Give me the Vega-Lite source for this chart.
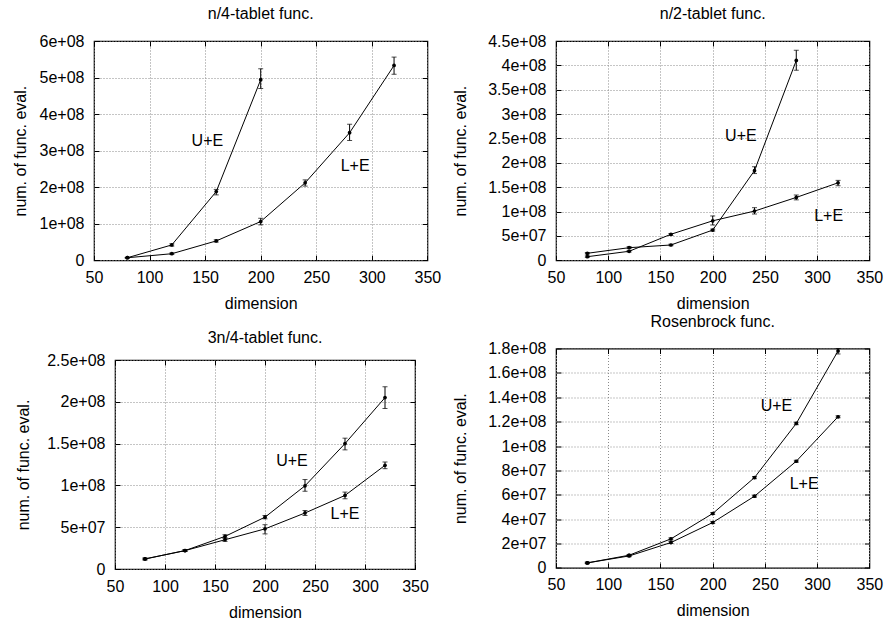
{
  "$schema": "https://vega.github.io/schema/vega-lite/v6.json",
  "background": "white",
  "padding": {"left": 11, "top": 5, "right": 0, "bottom": 0},
  "datasets": {
    "p1": [
      {"d": 80, "s": "U+E", "v": 7000000, "lo": 6000000, "hi": 8000000},
      {"d": 120, "s": "U+E", "v": 42000000, "lo": 39000000, "hi": 45000000},
      {"d": 160, "s": "U+E", "v": 188000000, "lo": 179000000, "hi": 194000000},
      {"d": 200, "s": "U+E", "v": 494000000, "lo": 470000000, "hi": 524000000},
      {"d": 80, "s": "L+E", "v": 7000000, "lo": 6000000, "hi": 8000000},
      {"d": 120, "s": "L+E", "v": 18000000, "lo": 16000000, "hi": 20000000},
      {"d": 160, "s": "L+E", "v": 53000000, "lo": 50000000, "hi": 56000000},
      {"d": 200, "s": "L+E", "v": 106000000, "lo": 97000000, "hi": 115000000},
      {"d": 240, "s": "L+E", "v": 212000000, "lo": 203000000, "hi": 220000000},
      {"d": 280, "s": "L+E", "v": 349000000, "lo": 328000000, "hi": 372000000},
      {"d": 320, "s": "L+E", "v": 533000000, "lo": 509000000, "hi": 556000000}
    ],
    "p2": [
      {"d": 80, "s": "U+E", "v": 14400000, "lo": 13000000, "hi": 16000000},
      {"d": 120, "s": "U+E", "v": 25900000, "lo": 24000000, "hi": 28000000},
      {"d": 160, "s": "U+E", "v": 31400000, "lo": 30000000, "hi": 33000000},
      {"d": 200, "s": "U+E", "v": 62000000, "lo": 60000000, "hi": 64000000},
      {"d": 240, "s": "U+E", "v": 184000000, "lo": 178000000, "hi": 192000000},
      {"d": 280, "s": "U+E", "v": 410000000, "lo": 390000000, "hi": 431000000},
      {"d": 80, "s": "L+E", "v": 7400000, "lo": 6000000, "hi": 9000000},
      {"d": 120, "s": "L+E", "v": 18500000, "lo": 17000000, "hi": 20000000},
      {"d": 160, "s": "L+E", "v": 53400000, "lo": 51000000, "hi": 55000000},
      {"d": 200, "s": "L+E", "v": 81000000, "lo": 72500000, "hi": 91000000},
      {"d": 240, "s": "L+E", "v": 101000000, "lo": 95000000, "hi": 108000000},
      {"d": 280, "s": "L+E", "v": 129000000, "lo": 124000000, "hi": 134000000},
      {"d": 320, "s": "L+E", "v": 159000000, "lo": 153000000, "hi": 164000000}
    ],
    "p3": [
      {"d": 80, "s": "U+E", "v": 12000000, "lo": 11000000, "hi": 13000000},
      {"d": 120, "s": "U+E", "v": 22000000, "lo": 21000000, "hi": 23000000},
      {"d": 160, "s": "U+E", "v": 39000000, "lo": 37000000, "hi": 41000000},
      {"d": 200, "s": "U+E", "v": 62000000, "lo": 60000000, "hi": 64000000},
      {"d": 240, "s": "U+E", "v": 99500000, "lo": 93000000, "hi": 107000000},
      {"d": 280, "s": "U+E", "v": 150000000, "lo": 142500000, "hi": 156500000},
      {"d": 320, "s": "U+E", "v": 205000000, "lo": 192000000, "hi": 218000000},
      {"d": 80, "s": "L+E", "v": 12000000, "lo": 11000000, "hi": 13000000},
      {"d": 120, "s": "L+E", "v": 22000000, "lo": 21000000, "hi": 23000000},
      {"d": 160, "s": "L+E", "v": 35000000, "lo": 33000000, "hi": 37000000},
      {"d": 200, "s": "L+E", "v": 48000000, "lo": 42000000, "hi": 53000000},
      {"d": 240, "s": "L+E", "v": 67000000, "lo": 64000000, "hi": 70000000},
      {"d": 280, "s": "L+E", "v": 88000000, "lo": 84000000, "hi": 92000000},
      {"d": 320, "s": "L+E", "v": 124000000, "lo": 120000000, "hi": 128000000}
    ],
    "p4": [
      {"d": 80, "s": "U+E", "v": 4100000, "lo": 3500000, "hi": 4700000},
      {"d": 120, "s": "U+E", "v": 10400000, "lo": 9800000, "hi": 11000000},
      {"d": 160, "s": "U+E", "v": 23800000, "lo": 23000000, "hi": 24600000},
      {"d": 200, "s": "U+E", "v": 44600000, "lo": 43800000, "hi": 45400000},
      {"d": 240, "s": "U+E", "v": 74100000, "lo": 73200000, "hi": 75000000},
      {"d": 280, "s": "U+E", "v": 118500000, "lo": 117500000, "hi": 119500000},
      {"d": 320, "s": "U+E", "v": 178000000, "lo": 175500000, "hi": 180000000},
      {"d": 80, "s": "L+E", "v": 4100000, "lo": 3500000, "hi": 4700000},
      {"d": 120, "s": "L+E", "v": 9800000, "lo": 9200000, "hi": 10400000},
      {"d": 160, "s": "L+E", "v": 20800000, "lo": 20000000, "hi": 21600000},
      {"d": 200, "s": "L+E", "v": 37200000, "lo": 36400000, "hi": 38000000},
      {"d": 240, "s": "L+E", "v": 58800000, "lo": 58000000, "hi": 59600000},
      {"d": 280, "s": "L+E", "v": 87500000, "lo": 86700000, "hi": 88300000},
      {"d": 320, "s": "L+E", "v": 124000000, "lo": 123200000, "hi": 124800000}
    ],
    "l1": [{"d": 152, "v": 326000000, "t": "U+E"}, {"d": 285, "v": 258000000, "t": "L+E"}],
    "l2": [{"d": 227, "v": 255000000, "t": "U+E"}, {"d": 311, "v": 91000000, "t": "L+E"}],
    "l3": [{"d": 227, "v": 129000000, "t": "U+E"}, {"d": 280, "v": 66000000, "t": "L+E"}],
    "l4": [{"d": 261, "v": 132700000, "t": "U+E"}, {"d": 287.5, "v": 69200000, "t": "L+E"}],
    "spacer": [{"d": 0}]
  },
  "hconcat": [
    {
      "vconcat": [
        {
          "width": 333.4, "height": 219.3,
          "title": "n/4-tablet func.",
          "resolve": {"axis": {"x": "independent", "y": "independent"}},
          "encoding": {
            "x": {"field": "d", "type": "quantitative", "scale": {"domain": [50, 350], "nice": false, "zero": false}, "axis": null},
            "y": {"field": "v", "type": "quantitative", "scale": {"domain": [0, 600000000], "nice": false}, "axis": null}
          },
          "layer": [
            {"data": {"name": "p1"}, "mark": {"type": "line", "color": "black", "strokeWidth": 1},
             "encoding": {
               "x": {"field": "d", "type": "quantitative", "scale": {"domain": [50, 350], "nice": false, "zero": false}, "axis": {"title": "dimension", "values": [50, 100, 150, 200, 250, 300, 350]}},
               "y": {"field": "v", "type": "quantitative", "scale": {"domain": [0, 600000000], "nice": false}, "axis": {"title": "num. of func. eval.", "titlePadding": 11, "values": [0, 100000000, 200000000, 300000000, 400000000, 500000000, 600000000]}},
               "detail": {"field": "s"}}},
            {"data": {"name": "p1"}, "mark": {"type": "point", "filled": true, "color": "black", "size": 14, "opacity": 1},
             "encoding": {
               "x": {"field": "d", "type": "quantitative", "scale": {"domain": [50, 350], "nice": false, "zero": false}, "axis": {"orient": "top", "labels": false, "title": null, "grid": false, "values": [50, 100, 150, 200, 250, 300, 350]}},
               "y": {"field": "v", "type": "quantitative", "scale": {"domain": [0, 600000000], "nice": false}, "axis": {"orient": "right", "labels": false, "title": null, "grid": false, "values": [0, 100000000, 200000000, 300000000, 400000000, 500000000, 600000000]}}}},
            {"data": {"name": "p1"}, "mark": {"type": "errorbar", "ticks": {"size": 5, "color": "black"}, "color": "black", "thickness": 1},
             "encoding": {"y": {"field": "lo", "type": "quantitative", "scale": {"domain": [0, 600000000], "nice": false}, "axis": null}, "y2": {"field": "hi"}}},
            {"data": {"name": "l1"}, "mark": {"type": "text", "fontSize": 16, "color": "black"}, "encoding": {"text": {"field": "t"}}}
          ]
        },
        {
          "hconcat": [
            {
              "width": 21, "height": 1,
              "data": {"name": "spacer"},
              "mark": {"type": "point", "opacity": 0},
              "encoding": {},
              "view": {"stroke": null}
            },
            {
              "width": 300, "height": 209,
              "title": {"text": "3n/4-tablet func.", "offset": 6},
              "resolve": {"axis": {"x": "independent", "y": "independent"}},
              "encoding": {
                "x": {"field": "d", "type": "quantitative", "scale": {"domain": [50, 350], "nice": false, "zero": false}, "axis": null},
                "y": {"field": "v", "type": "quantitative", "scale": {"domain": [0, 250000000], "nice": false}, "axis": null}
              },
              "layer": [
                {"data": {"name": "p3"}, "mark": {"type": "line", "color": "black", "strokeWidth": 1},
                 "encoding": {
                   "x": {"field": "d", "type": "quantitative", "scale": {"domain": [50, 350], "nice": false, "zero": false}, "axis": {"title": "dimension", "values": [50, 100, 150, 200, 250, 300, 350]}},
                   "y": {"field": "v", "type": "quantitative", "scale": {"domain": [0, 250000000], "nice": false}, "axis": {"title": "num. of func. eval.", "titlePadding": 15, "values": [0, 50000000, 100000000, 150000000, 200000000, 250000000]}},
                   "detail": {"field": "s"}}},
                {"data": {"name": "p3"}, "mark": {"type": "point", "filled": true, "color": "black", "size": 14, "opacity": 1},
                 "encoding": {
                   "x": {"field": "d", "type": "quantitative", "scale": {"domain": [50, 350], "nice": false, "zero": false}, "axis": {"orient": "top", "labels": false, "title": null, "grid": false, "values": [50, 100, 150, 200, 250, 300, 350]}},
                   "y": {"field": "v", "type": "quantitative", "scale": {"domain": [0, 250000000], "nice": false}, "axis": {"orient": "right", "labels": false, "title": null, "grid": false, "values": [0, 50000000, 100000000, 150000000, 200000000, 250000000]}}}},
                {"data": {"name": "p3"}, "mark": {"type": "errorbar", "ticks": {"size": 5, "color": "black"}, "color": "black", "thickness": 1},
                 "encoding": {"y": {"field": "lo", "type": "quantitative", "scale": {"domain": [0, 250000000], "nice": false}, "axis": null}, "y2": {"field": "hi"}}},
                {"data": {"name": "l3"}, "mark": {"type": "text", "fontSize": 16, "color": "black"}, "encoding": {"text": {"field": "t"}}}
              ]
            }
          ],
          "spacing": 0,
          "bounds": "flush"
        }
      ],
      "spacing": 17
    },
    {
      "vconcat": [
        {
          "width": 313.4, "height": 219.3,
          "title": "n/2-tablet func.",
          "resolve": {"axis": {"x": "independent", "y": "independent"}},
          "encoding": {
            "x": {"field": "d", "type": "quantitative", "scale": {"domain": [50, 350], "nice": false, "zero": false}, "axis": null},
            "y": {"field": "v", "type": "quantitative", "scale": {"domain": [0, 450000000], "nice": false}, "axis": null}
          },
          "layer": [
            {"data": {"name": "p2"}, "mark": {"type": "line", "color": "black", "strokeWidth": 1},
             "encoding": {
               "x": {"field": "d", "type": "quantitative", "scale": {"domain": [50, 350], "nice": false, "zero": false}, "axis": {"title": "dimension", "values": [50, 100, 150, 200, 250, 300, 350]}},
               "y": {"field": "v", "type": "quantitative", "scale": {"domain": [0, 450000000], "nice": false}, "axis": {"title": "num. of func. eval.", "titlePadding": 19, "values": [0, 50000000, 100000000, 150000000, 200000000, 250000000, 300000000, 350000000, 400000000, 450000000]}},
               "detail": {"field": "s"}}},
            {"data": {"name": "p2"}, "mark": {"type": "point", "filled": true, "color": "black", "size": 14, "opacity": 1},
             "encoding": {
               "x": {"field": "d", "type": "quantitative", "scale": {"domain": [50, 350], "nice": false, "zero": false}, "axis": {"orient": "top", "labels": false, "title": null, "grid": false, "values": [50, 100, 150, 200, 250, 300, 350]}},
               "y": {"field": "v", "type": "quantitative", "scale": {"domain": [0, 450000000], "nice": false}, "axis": {"orient": "right", "labels": false, "title": null, "grid": false, "values": [0, 50000000, 100000000, 150000000, 200000000, 250000000, 300000000, 350000000, 400000000, 450000000]}}}},
            {"data": {"name": "p2"}, "mark": {"type": "errorbar", "ticks": {"size": 5, "color": "black"}, "color": "black", "thickness": 1},
             "encoding": {"y": {"field": "lo", "type": "quantitative", "scale": {"domain": [0, 450000000], "nice": false}, "axis": null}, "y2": {"field": "hi"}}},
            {"data": {"name": "l2"}, "mark": {"type": "text", "fontSize": 16, "color": "black"}, "encoding": {"text": {"field": "t"}}}
          ]
        },
        {
          "width": 313.4, "height": 219.4,
          "title": "Rosenbrock func.",
          "resolve": {"axis": {"x": "independent", "y": "independent"}},
          "encoding": {
            "x": {"field": "d", "type": "quantitative", "scale": {"domain": [50, 350], "nice": false, "zero": false}, "axis": null},
            "y": {"field": "v", "type": "quantitative", "scale": {"domain": [0, 180000000], "nice": false}, "axis": null}
          },
          "layer": [
            {"data": {"name": "p4"}, "mark": {"type": "line", "color": "black", "strokeWidth": 1},
             "encoding": {
               "x": {"field": "d", "type": "quantitative", "scale": {"domain": [50, 350], "nice": false, "zero": false}, "axis": {"title": "dimension", "values": [50, 100, 150, 200, 250, 300, 350]}},
               "y": {"field": "v", "type": "quantitative", "scale": {"domain": [0, 180000000], "nice": false}, "axis": {"title": "num. of func. eval.", "titlePadding": 19, "values": [0, 20000000, 40000000, 60000000, 80000000, 100000000, 120000000, 140000000, 160000000, 180000000]}},
               "detail": {"field": "s"}}},
            {"data": {"name": "p4"}, "mark": {"type": "point", "filled": true, "color": "black", "size": 14, "opacity": 1},
             "encoding": {
               "x": {"field": "d", "type": "quantitative", "scale": {"domain": [50, 350], "nice": false, "zero": false}, "axis": {"orient": "top", "labels": false, "title": null, "grid": false, "values": [50, 100, 150, 200, 250, 300, 350]}},
               "y": {"field": "v", "type": "quantitative", "scale": {"domain": [0, 180000000], "nice": false}, "axis": {"orient": "right", "labels": false, "title": null, "grid": false, "values": [0, 20000000, 40000000, 60000000, 80000000, 100000000, 120000000, 140000000, 160000000, 180000000]}}}},
            {"data": {"name": "p4"}, "mark": {"type": "errorbar", "ticks": {"size": 5, "color": "black"}, "color": "black", "thickness": 1},
             "encoding": {"y": {"field": "lo", "type": "quantitative", "scale": {"domain": [0, 180000000], "nice": false}, "axis": null}, "y2": {"field": "hi"}}},
            {"data": {"name": "l4"}, "mark": {"type": "text", "fontSize": 16, "color": "black"}, "encoding": {"text": {"field": "t"}}}
          ]
        }
      ],
      "spacing": 0.5
    }
  ],
  "spacing": 10,
  "config": {
    "font": "Liberation Sans",
    "view": {"stroke": "black", "strokeWidth": 1.2},
    "axis": {
      "domain": false, "grid": true, "gridColor": "#8a8a8a", "gridDash": [1, 2], "gridWidth": 1,
      "ticks": true, "tickColor": "black", "tickSize": -5, "tickWidth": 1,
      "labelFont": "Liberation Sans", "labelFontSize": 16, "labelColor": "black",
      "labelOverlap": false, "labelFlush": false,
      "titleFont": "Liberation Sans", "titleFontSize": 16, "titleFontWeight": "normal", "titleColor": "black"
    },
    "axisY": {"labelExpr": "datum.value == 0 ? '0' : replace(format(datum.value, '.2~e'), 'e+', 'e+0')", "labelPadding": 15},
    "axisX": {"labelPadding": 14, "titlePadding": 10},
    "title": {"font": "Liberation Sans", "fontSize": 16, "fontWeight": "normal", "color": "black", "offset": 11}
  }
}
